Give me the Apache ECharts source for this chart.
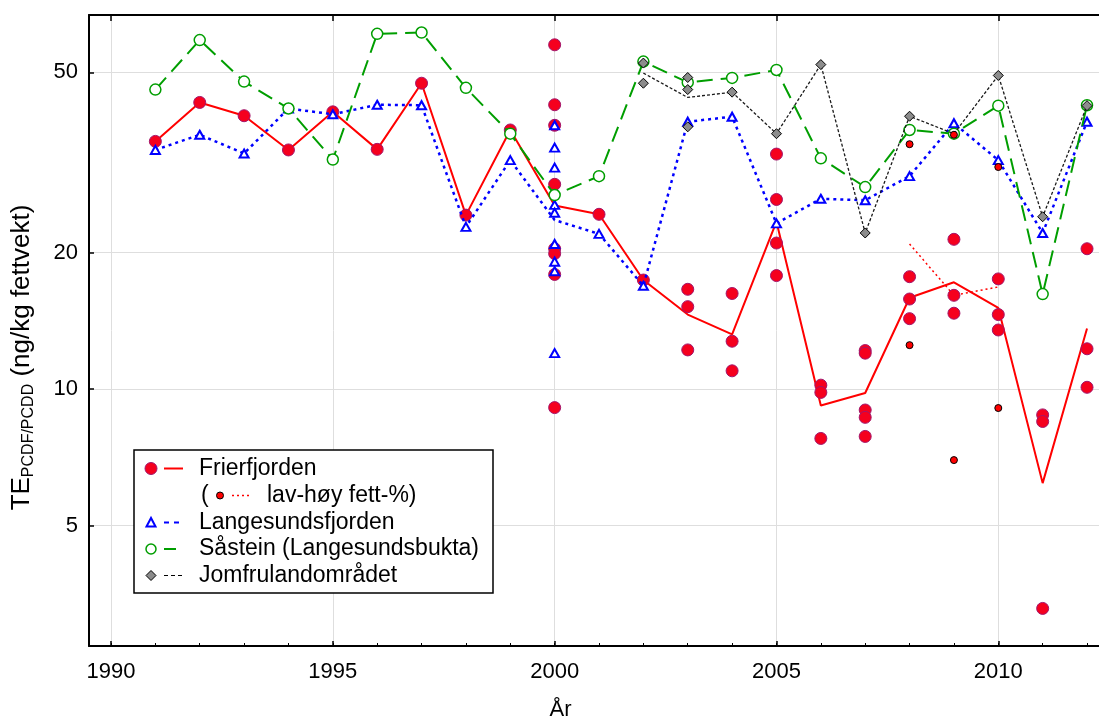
<!DOCTYPE html>
<html>
<head>
<meta charset="utf-8">
<script src="https://cdn.jsdelivr.net/npm/echarts@6/dist/echarts.min.js"></script>
<style>
  html, body { margin: 0; padding: 0; background: #fff; }
  #chart { width: 1099px; height: 717px; }
</style>
</head>
<body>
<div id="chart"></div>
<script>
// Axis ticks and labels
const xMajorTicks = [1990, 1995, 2000, 2005, 2010];
const xMinorTicks = [1990, 1991, 1992, 1993, 1994, 1995, 1996, 1997, 1998, 1999, 2000,
                     2001, 2002, 2003, 2004, 2005, 2006, 2007, 2008, 2009, 2010, 2011, 2012];
const yTicks = [5, 10, 20, 50];

// Sampling years
const years = [1991, 1992, 1993, 1994, 1995, 1996, 1997, 1998, 1999, 2000, 2001,
               2002, 2003, 2004, 2005, 2006, 2007, 2008, 2009, 2010, 2011, 2012];

// Frierfjorden: yearly mean (ng/kg fettvekt) and individual samples
const frierfjordenMean = [35.2, 42.9, 40.1, 33.7, 40.9, 33.8, 47.3, 24.2, 37.3, 25.4, 24.3,
                          17.4, 14.6, 13.2, 23.4, 9.2, 9.8, 15.9, 17.2, 15.1, 6.2, 13.6];
const frierfjordenSamples = [
  [1991, 35.2], [1992, 42.9], [1993, 40.1], [1994, 33.7], [1995, 40.9], [1996, 33.8],
  [1997, 47.3], [1998, 24.2], [1999, 37.3],
  [2000, 57.5], [2000, 42.4], [2000, 38.2], [2000, 28.3], [2000, 20.4], [2000, 19.9], [2000, 17.9], [2000, 9.1],
  [2001, 24.3], [2002, 17.4],
  [2003, 16.6], [2003, 15.2], [2003, 12.2],
  [2004, 16.25], [2004, 12.75], [2004, 10.97],
  [2005, 33.0], [2005, 26.2], [2005, 21.0], [2005, 17.8],
  [2006, 10.2], [2006, 9.83], [2006, 7.78],
  [2007, 12.16], [2007, 12.0], [2007, 8.99], [2007, 8.66], [2007, 7.86],
  [2008, 17.7], [2008, 15.8], [2008, 14.3],
  [2009, 21.4], [2009, 16.1], [2009, 14.7],
  [2010, 17.5], [2010, 14.6], [2010, 13.5],
  [2011, 8.77], [2011, 8.48], [2011, 3.28],
  [2012, 20.4], [2012, 12.27], [2012, 10.09]
];
// Frierfjorden: low / high fat-% samples and their mean
const fatYears = [2008, 2009, 2010];
const fatMean = [20.9, 16.1, 16.8];
const fatSamples = [[2008, 34.7], [2008, 12.5], [2009, 36.4], [2009, 6.97], [2010, 30.9], [2010, 9.08]];

// Langesundsfjorden
const langesundMean = [33.7, 36.4, 33.1, 41.6, 40.4, 42.4, 42.3, 22.8, 32.0, 23.6, 22.0,
                       16.9, 38.9, 39.9, 23.2, 26.3, 26.1, 29.5, 38.6, 32.0, 22.1, 38.9];
const langesundSamples = [
  [1991, 33.7], [1992, 36.4], [1993, 33.1], [1994, 41.6], [1995, 40.4], [1996, 42.4],
  [1997, 42.3], [1998, 22.8], [1999, 32.0],
  [2000, 38.2], [2000, 34.1], [2000, 30.8], [2000, 25.5], [2000, 24.5], [2000, 20.9], [2000, 19.1], [2000, 18.2], [2000, 12.0],
  [2001, 22.0], [2002, 16.9], [2003, 38.9], [2004, 39.9], [2005, 23.2], [2006, 26.3],
  [2007, 26.1], [2008, 29.5], [2009, 38.6], [2010, 32.0], [2011, 22.1], [2012, 38.9]
];

// Såstein (Langesundsbukta)
const saasteinValues = [45.8, 58.9, 47.7, 41.6, 32.1, 60.8, 61.2, 46.2, 36.6, 26.8, 29.5,
                        52.8, 47.5, 48.6, 50.6, 32.3, 27.9, 37.3, 36.6, 42.2, 16.2, 42.3];

// Jomfrulandområdet
const jomfruYears = [2002, 2003, 2004, 2005, 2006, 2007, 2008, 2009, 2010, 2011, 2012];
const jomfruMean = [49.8, 44.0, 45.2, 36.6, 52.0, 22.1, 40.0, 36.6, 49.2, 24.0, 42.2];
const jomfruSamples = [
  [2002, 52.4], [2002, 47.3],
  [2003, 48.7], [2003, 45.8], [2003, 37.9],
  [2004, 45.2], [2005, 36.6], [2006, 52.0], [2007, 22.1], [2008, 40.0],
  [2010, 49.2], [2011, 24.0], [2012, 42.2]
];

const pairs = (xs, ys) => xs.map((x, i) => [x, ys[i]]);

const FONT = '"Liberation Sans", Arial, Helvetica, sans-serif';
const RED = '#ff0000';
const DOT_RED = '#f5001e';
const DOT_EDGE = '#a3156b';
const BLUE = '#0000ff';
const GREEN = '#009e00';
const GRAY = '#8c8c8c';
const GRID = '#dedede';

const X_MIN = 1989.504;
const X_MAX = 2012.27;

const chart = echarts.init(document.getElementById('chart'), null, { renderer: 'canvas' });

// Legend, drawn as a framed box of sample marks and text
const LX = 151, LT = 199;
const rowY = [468.5, 495.5, 522.5, 549, 575.5];
const legendText = (x, y, s) => ({
  type: 'text', x: x, y: y,
  style: { text: s, font: '23px ' + FONT, fill: '#000', verticalAlign: 'middle', align: 'left' }
});
const legendLine = (x1, x2, y, color, width, dash) => ({
  type: 'line', shape: { x1: x1, y1: y, x2: x2, y2: y },
  style: { stroke: color, lineWidth: width, lineDash: dash || null }
});

const legend = [
  { type: 'rect', shape: { x: 134, y: 450, width: 359, height: 143 },
    style: { fill: '#fff', stroke: '#000', lineWidth: 1.5 } },
  // Frierfjorden
  { type: 'circle', shape: { cx: LX, cy: rowY[0], r: 6 }, style: { fill: DOT_RED, stroke: DOT_EDGE, lineWidth: 1 } },
  legendLine(164, 183, rowY[0], RED, 2),
  legendText(LT, rowY[0], 'Frierfjorden'),
  // low / high fat-%
  legendText(LT + 2, rowY[1], '('),
  { type: 'circle', shape: { cx: 220, cy: rowY[1], r: 3.5 }, style: { fill: RED, stroke: '#000', lineWidth: 1 } },
  legendLine(232, 251, rowY[1], RED, 1.5, [2, 3]),
  legendText(267, rowY[1], 'lav-høy fett-%)'),
  // Langesundsfjorden
  { type: 'polygon', shape: { points: [[LX, rowY[2] - 4.5], [LX - 4.5, rowY[2] + 4], [LX + 4.5, rowY[2] + 4]] },
    style: { fill: '#fff', stroke: BLUE, lineWidth: 2 } },
  legendLine(164, 183, rowY[2], BLUE, 2, [5, 5]),
  legendText(LT, rowY[2], 'Langesundsfjorden'),
  // Såstein
  { type: 'circle', shape: { cx: LX, cy: rowY[3], r: 5 }, style: { fill: '#fff', stroke: GREEN, lineWidth: 1.5 } },
  legendLine(164, 176, rowY[3], GREEN, 2),
  legendText(LT, rowY[3], 'Såstein (Langesundsbukta)'),
  // Jomfrulandområdet
  { type: 'polygon', shape: { points: [[LX, rowY[4] - 5], [LX + 5, rowY[4]], [LX, rowY[4] + 5], [LX - 5, rowY[4]]] },
    style: { fill: GRAY, stroke: '#000', lineWidth: 1 } },
  legendLine(164, 183, rowY[4], '#000', 1.2, [4, 3]),
  legendText(LT, rowY[4], 'Jomfrulandområdet')
];

const plainNumber = v => String(Math.round(v));

const option = {
  animation: false,
  backgroundColor: '#fff',
  textStyle: { fontFamily: FONT },
  grid: { left: 89, right: 0, top: 15, bottom: 71, containLabel: false, outerBoundsMode: 'none' },
  xAxis: [
    {
      type: 'value', position: 'bottom', min: X_MIN, max: X_MAX,
      axisLine: { show: true, onZero: false, lineStyle: { color: '#000', width: 2 } },
      axisTick: { show: true, inside: true, length: 5, customValues: xMajorTicks, lineStyle: { color: '#000', width: 1.5 } },
      axisLabel: { show: true, customValues: xMajorTicks, formatter: plainNumber, fontSize: 22, color: '#000', margin: 15, fontFamily: FONT },
      splitLine: { show: true, lineStyle: { color: GRID, width: 1 } },
      minorTick: { show: false },
      name: 'År', nameLocation: 'middle', nameGap: 53,
      nameTextStyle: { fontSize: 22, color: '#000', fontFamily: FONT, padding: [0, 67, 0, 0] }
    },
    {
      type: 'value', position: 'bottom', min: X_MIN, max: X_MAX,
      axisLine: { show: false },
      axisTick: { show: true, inside: true, length: 3, customValues: xMinorTicks, lineStyle: { color: '#000', width: 1 } },
      axisLabel: { show: false },
      splitLine: { show: false }
    },
    {
      type: 'value', position: 'top', min: X_MIN, max: X_MAX,
      axisLine: { show: true, onZero: false, lineStyle: { color: '#000', width: 2 } },
      axisTick: { show: true, inside: true, length: 6, customValues: xMajorTicks, lineStyle: { color: '#000', width: 1.5 } },
      axisLabel: { show: false },
      splitLine: { show: false }
    }
  ],
  yAxis: {
    type: 'log', logBase: 10, min: 2.71, max: 66.9,
    axisLine: { show: true, onZero: false, lineStyle: { color: '#000', width: 2 } },
    axisTick: { show: true, inside: true, length: 5, customValues: yTicks, lineStyle: { color: '#000', width: 1.5 } },
    axisLabel: { show: true, customValues: yTicks, formatter: plainNumber, fontSize: 22, color: '#000', margin: 11, fontFamily: FONT },
    splitLine: { show: true, lineStyle: { color: GRID, width: 1 } },
    minorTick: { show: false },
    minorSplitLine: { show: false },
    name: '{a|TE}{b|PCDF/PCDD}{a| (ng/kg fettvekt)}',
    nameLocation: 'middle', nameRotate: 90, nameGap: 52,
    nameTextStyle: {
      color: '#000', fontFamily: FONT, padding: [0, 54, 0, 0],
      rich: {
        a: { fontSize: 26, fontFamily: FONT, color: '#000', lineHeight: 30 },
        b: { fontSize: 16, fontFamily: FONT, color: '#000', lineHeight: 30, verticalAlign: 'bottom', padding: [9, 0, 0, 0] }
      }
    }
  },
  series: [
    {
      name: 'Frierfjorden', type: 'line', z: 2, xAxisIndex: 0,
      data: pairs(years, frierfjordenMean), showSymbol: false, symbol: 'none',
      lineStyle: { color: RED, width: 2 }
    },
    {
      name: 'lav-høy fett-%', type: 'line', z: 2, xAxisIndex: 0,
      data: pairs(fatYears, fatMean), showSymbol: false, symbol: 'none',
      lineStyle: { color: RED, width: 1.5, type: [2, 3] }
    },
    {
      name: 'Frierfjorden prøver', type: 'scatter', z: 3, xAxisIndex: 0,
      data: frierfjordenSamples, symbol: 'circle', symbolSize: 12,
      itemStyle: { color: DOT_RED, borderColor: DOT_EDGE, borderWidth: 1, opacity: 1 }
    },
    {
      name: 'Langesundsfjorden', type: 'line', z: 4, xAxisIndex: 0,
      data: pairs(years, langesundMean), showSymbol: false, symbol: 'none',
      lineStyle: { color: BLUE, width: 2.5, type: [3, 4] }
    },
    {
      name: 'Langesundsfjorden prøver', type: 'scatter', z: 5, xAxisIndex: 0,
      data: langesundSamples, symbol: 'triangle', symbolSize: [9, 8],
      itemStyle: { color: '#fff', borderColor: BLUE, borderWidth: 2, opacity: 1 }
    },
    {
      name: 'Såstein (Langesundsbukta)', type: 'line', z: 6, xAxisIndex: 0,
      data: pairs(years, saasteinValues), showSymbol: true, symbol: 'circle', symbolSize: 11,
      lineStyle: { color: GREEN, width: 2, type: [16, 8] },
      itemStyle: { color: '#fff', borderColor: GREEN, borderWidth: 1.5 }
    },
    {
      name: 'Jomfrulandområdet', type: 'line', z: 7, xAxisIndex: 0,
      data: pairs(jomfruYears, jomfruMean), showSymbol: false, symbol: 'none',
      lineStyle: { color: '#1a1a1a', width: 1.3, type: [3, 2] }
    },
    {
      name: 'Jomfrulandområdet prøver', type: 'scatter', z: 8, xAxisIndex: 0,
      data: jomfruSamples, symbol: 'diamond', symbolSize: 10,
      itemStyle: { color: GRAY, borderColor: '#000', borderWidth: 1, opacity: 1 }
    },
    {
      name: 'lav-høy fett-% prøver', type: 'scatter', z: 9, xAxisIndex: 0,
      data: fatSamples, symbol: 'circle', symbolSize: 7,
      itemStyle: { color: RED, borderColor: '#000', borderWidth: 1, opacity: 1 }
    }
  ],
  graphic: { elements: legend.map(e => Object.assign({ z: 100 }, e)) }
};

chart.setOption(option);
</script>
</body>
</html>
